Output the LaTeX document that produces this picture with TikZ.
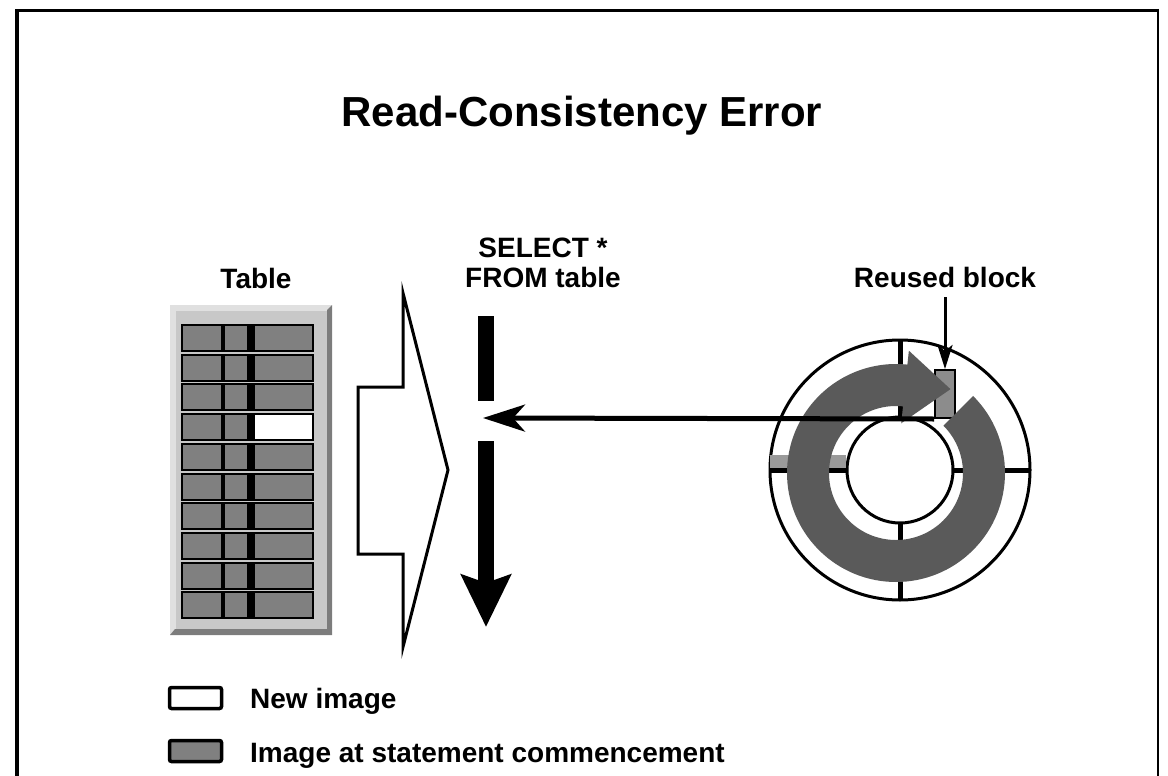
\documentclass[tikz,border=0pt]{standalone}
\usepackage{fontspec}
\setmainfont{Liberation Sans}
\usepackage{tikz}
\usetikzlibrary{arrows.meta,positioning,calc}
\definecolor{cellgray}{HTML}{808080}
\definecolor{panelgray}{HTML}{C8C8C8}
\definecolor{panellight}{HTML}{E0E0E0}
\definecolor{panelshade}{HTML}{7C7C7C}
\definecolor{ringgray}{HTML}{5A5A5A}
\definecolor{blockgray}{HTML}{8C8C8C}
\definecolor{slotgray}{HTML}{9A9A9A}

\begin{document}
\begin{tikzpicture}[x=1pt, y=-1pt, font=\bfseries\fontsize{28}{30}\selectfont,
  lbl/.style={anchor=base, inner sep=0pt},
  cell/.style={draw, line width=2pt, fill=#1},
  cell/.default=cellgray,
  keybox/.style={draw, line width=3.5pt, rounded corners=2pt, minimum width=52pt, minimum height=21pt, inner sep=0pt, fill=#1},
  pointer/.style={line width=3pt, -{Stealth[length=24pt, width=15pt, inset=6pt]}}]
\useasboundingbox (0,0) rectangle (1168,776);
% frame
\draw[line width=4pt] (17,776) -- (17,10.5);
\draw[line width=3.5pt] (15,10.5) -- (1158,10.5);
\draw[line width=2pt] (1158,9) -- (1158,776);
\node[lbl, font=\bfseries\fontsize{42}{48}\selectfont] (title) at (582,126) {Read-Consistency Error};
% table
\node[lbl] (tablbl) at (256,288) {Table};
\fill[panellight] (170,305) rectangle (332,635);
\fill[panelshade] (332,305) -- (332,635) -- (170,635) -- (175,629) -- (327,629) -- (327,310) -- cycle;
\fill[panelgray] (176,311) rectangle (327,629);
\foreach \i/\c in {0/cellgray,1/cellgray,2/cellgray,3/white,4/cellgray,5/cellgray,6/cellgray,7/cellgray,8/cellgray,9/cellgray} {
  \pgfmathsetmacro\ry{325+\i*29.7}
  \draw[cell] (182,\ry) rectangle ++(40,26);
  \draw[cell] (224,\ry) rectangle ++(28,26);
  \draw[cell=\c] (254,\ry) rectangle ++(59,26);
  \fill (247,\ry) rectangle ++(7,26);
}
\draw[line width=3pt, line join=miter, fill=white] (403,293) -- (403,387) -- (358,387) -- (358,554) -- (403,554) -- (403,647) -- (448,470) -- cycle;
% statement scan
\node[lbl] (sel) at (543,257) {SELECT *};
\node[lbl] (from) at (543,287) {FROM table};
\fill (478,316) rectangle (494,401);
\coordinate (gap) at (483,418);
\draw[line width=16pt, -{Stealth[length=52pt, width=49pt, inset=8pt]}] (486,441) -- (486,627);
% rollback segment
\draw[line width=3pt] (900,470) circle[radius=130];
\draw[line width=3pt] (900,470) circle[radius=53];
\fill[slotgray] (770,455) rectangle (846,468);
\draw[line width=5pt] (900,340) -- (900,417) (900,523) -- (900,600) (953,470) -- (1029,470) (771,470) -- (847,470);
\node[draw, line width=2pt, fill=blockgray, minimum width=20pt, minimum height=48pt, inner sep=0pt] (blk) at (945,394) {};
\begin{scope}[shift={(896,473)}, yscale=-1]
  \fill[ringgray] (45:109) arc[start angle=45, end angle=-276, radius=109] -- (-276:123) -- (57:100) -- (-276:50) -- (-276:67) arc[start angle=-276, end angle=45, radius=67] -- cycle;
\end{scope}
\node[lbl] (reused) at (945,287) {Reused block};
\draw[pointer, shorten <=10pt] (reused.south) -- (blk.north);
\draw[line width=5pt, -{Stealth[length=42pt, width=27pt, inset=12pt]}] (blk.south west) -- (gap);
% legend
\node[keybox=white] (newkey) at (195.5,698) {};
\node[lbl, anchor=base west] (newtxt) at (250,708) {New image};
\node[keybox=cellgray] (oldkey) at (195.5,751) {};
\node[lbl, anchor=base west] (oldtxt) at (250,762) {Image at statement commencement};
\end{tikzpicture}
\end{document}
